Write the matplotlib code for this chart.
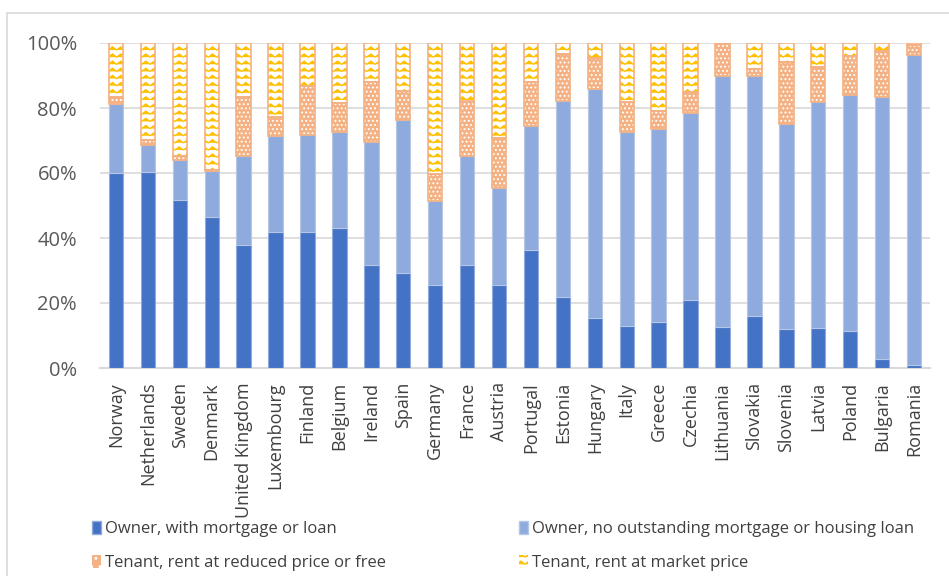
import warnings
import numpy as np
import matplotlib
matplotlib.use('Agg')
import matplotlib.pyplot as plt
from matplotlib import hatch as mhatch
from matplotlib.path import Path
from matplotlib.patches import Rectangle, Patch
from matplotlib.ticker import PercentFormatter

warnings.filterwarnings('ignore')

countries = ['Norway', 'Netherlands', 'Sweden', 'Denmark', 'United Kingdom',
             'Luxembourg', 'Finland', 'Belgium', 'Ireland', 'Spain', 'Germany',
             'France', 'Austria', 'Portugal', 'Estonia', 'Hungary', 'Italy',
             'Greece', 'Czechia', 'Lithuania', 'Slovakia', 'Slovenia', 'Latvia',
             'Poland', 'Bulgaria', 'Romania']

# shares in %
with_mortgage = [60.0, 60.4, 51.6, 46.4, 37.9, 41.9, 41.9, 43.0, 31.8, 29.3,
                 25.6, 31.7, 25.6, 36.3, 21.7, 15.4, 13.0, 14.2, 20.9, 12.6,
                 16.0, 12.1, 12.3, 11.3, 2.8, 1.0]
no_mortgage = [21.3, 8.3, 12.5, 14.1, 27.2, 29.4, 29.8, 29.7, 37.7, 47.1,
               25.7, 33.4, 29.8, 38.2, 60.6, 70.5, 59.5, 59.4, 57.7, 77.3,
               74.0, 62.9, 69.4, 72.6, 80.7, 95.3]
reduced_rent = [2.2, 1.5, 1.2, 0.5, 18.4, 5.9, 15.1, 8.8, 18.6, 8.7,
                8.4, 16.9, 15.5, 13.4, 14.2, 9.4, 9.3, 5.6, 6.2, 9.8,
                1.9, 19.3, 11.0, 12.2, 13.9, 3.1]
market_rent = [100 - a - b - c for a, b, c in
               zip(with_mortgage, no_mortgage, reduced_rent)]

labels = ['Owner, with mortgage or loan',
          'Owner, no outstanding mortgage or housing loan',
          'Tenant, rent at reduced price or free',
          'Tenant, rent at market price']


# zigzag hatch like the Excel pattern fill
class ZigZagHatch(mhatch.HatchPatternBase):
    def __init__(self, hatch, density):
        n = hatch.count('z')
        self.num_rows = n * 14
        self.num_cols = n * 12
        self.per_row = 2 * self.num_cols + 1
        self.num_vertices = self.num_rows * self.per_row if n else 0

    def set_vertices_and_codes(self, vertices, codes):
        xs = np.linspace(0, 1, self.per_row)
        amp = 0.45 / self.num_rows
        for i in range(self.num_rows):
            y0 = i / self.num_rows
            ys = y0 + amp * (np.arange(self.per_row) % 2)
            sl = slice(i * self.per_row, (i + 1) * self.per_row)
            vertices[sl, 0] = xs
            vertices[sl, 1] = ys
            codes[sl] = Path.LINETO
            codes[i * self.per_row] = Path.MOVETO


mhatch._hatch_types.append(ZigZagHatch)

plt.rcParams['font.family'] = ['Open Sans', 'DejaVu Sans']
plt.rcParams['hatch.linewidth'] = 0.9

fig = plt.figure(figsize=(9.49, 5.76), dpi=100)
ax = fig.add_axes([100 / 949, 1 - 368 / 576, 830 / 949, 325 / 576])

x = np.arange(len(countries))
w = 0.45
frac = lambda v: np.array(v) / 100

b1 = frac(with_mortgage)
b2 = frac(no_mortgage)
b3 = frac(reduced_rent)
b4 = frac(market_rent)

ax.bar(x, b1, w, color='#4472C4', edgecolor='#8FAADC', linewidth=0.8,
       label=labels[0], zorder=3)
ax.bar(x, b2, w, bottom=b1, color='#8FAADC', edgecolor='#B4C7E7',
       linewidth=0.8, label=labels[1], zorder=3)
# reduced rent: orange with white dots
ax.bar(x, b3, w, bottom=b1 + b2, color='#F4B183', edgecolor='white',
       hatch='....', linewidth=0, zorder=3)
ax.bar(x, b3, w, bottom=b1 + b2, fill=False, edgecolor='#F4B183',
       linewidth=1.2, zorder=4)
# market rent: white with gold zigzag
ax.bar(x, b4, w, bottom=b1 + b2 + b3, color='white', edgecolor='#FFC000',
       hatch='z', linewidth=0, zorder=3)
ax.bar(x, b4, w, bottom=b1 + b2 + b3, fill=False, edgecolor='#F4B183',
       linewidth=1.2, zorder=4)

ax.set_xlim(-0.5, len(countries) - 0.5)
ax.set_ylim(0, 1)
ax.set_yticks(np.arange(0, 1.01, 0.2))
ax.yaxis.set_major_formatter(PercentFormatter(1.0, decimals=0))
ax.set_xticks(x)
ax.set_xticklabels(countries, rotation=90)
ax.tick_params(axis='y', length=0, pad=16.5, labelsize=14.5, labelcolor='#595959')
ax.tick_params(axis='x', length=0, pad=10, labelsize=13, labelcolor='#404040')
ax.grid(axis='y', color='#D9D9D9', linewidth=1.2, zorder=0)
for s in ['top', 'right', 'left']:
    ax.spines[s].set_visible(False)
ax.spines['bottom'].set_color('#D9D9D9')
ax.spines['bottom'].set_linewidth(1.5)

# legend handles
handles = [
    Patch(facecolor='#4472C4', edgecolor='#8FAADC', label=labels[0]),
    Patch(facecolor='#8FAADC', edgecolor='#B4C7E7', label=labels[1]),
    Patch(facecolor='#F4B183', edgecolor='white', hatch='..', linewidth=0,
          label=labels[2]),
    Patch(facecolor='white', edgecolor='#FFC000', hatch='z', linewidth=0,
          label=labels[3]),
]
fig.legend(handles=[handles[0], handles[2], handles[1], handles[3]],
           labels=[labels[0], labels[2], labels[1], labels[3]],
           ncol=2, loc='lower left', mode='expand',
           bbox_to_anchor=(92 / 949, 5 / 576, 822 / 949, 0.1),
           frameon=False, fontsize=12, handlelength=0.55, handleheight=0.8,
           handletextpad=0.25, labelspacing=1.05, borderpad=0, borderaxespad=0,
           labelcolor='#404040')

# chart area frame
fig.add_artist(Rectangle((7 / 949, -0.05), 1.0, 1 - 13 / 576 + 0.05,
                         transform=fig.transFigure, fill=False,
                         edgecolor='#D9D9D9', linewidth=1.2))

fig.savefig('out.png', dpi=100)
